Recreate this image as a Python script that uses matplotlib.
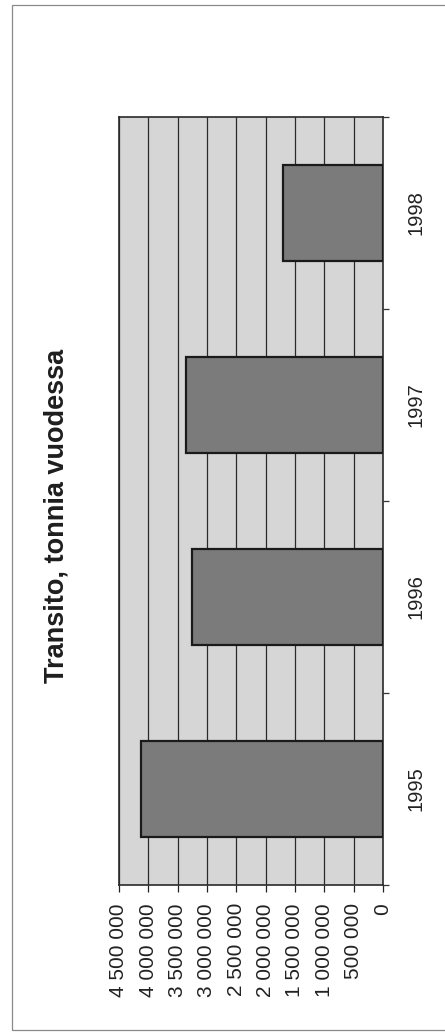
import matplotlib
matplotlib.use("Agg")
import matplotlib.pyplot as plt
from matplotlib.patches import Rectangle
from matplotlib.ticker import FuncFormatter, MultipleLocator

# ── Data ──────────────────────────────────────────────────────────────────────
years = ["1995", "1996", "1997", "1998"]
tonnes = [4125000, 3250000, 3360000, 1700000]
title = "Transito, tonnia vuodessa"

plt.rcParams["font.family"] = ["Liberation Sans", "DejaVu Sans"]

fig = plt.figure(figsize=(4.45, 10.34), dpi=100)
fig.patch.set_facecolor("white")

# page frame (right edge runs off the scan)
fig.patches.append(Rectangle((12 / 445, 4 / 1034), 1.0, 1025 / 1034,
                             transform=fig.transFigure, fill=False,
                             edgecolor="#8a8a8a", linewidth=0.9))

# chart is printed turned 90°: values run right-to-left, years bottom-to-top
ax = fig.add_axes([119 / 445, 149 / 1034, 264 / 445, 768 / 1034])
ax.set_facecolor("#d6d6d6")

pos = range(len(years))
ax.barh(pos, tonnes, height=0.5, color="#7b7b7b", edgecolor="#1a1a1a",
        linewidth=1.6, zorder=3)

ax.set_xlim(4500000, 0)
ax.set_ylim(-0.5, len(years) - 0.5)

ax.xaxis.set_major_locator(MultipleLocator(500000))
ax.xaxis.set_major_formatter(FuncFormatter(lambda v, p: f"{int(v):,}".replace(",", " ")))
ax.grid(axis="x", color="#2a2a2a", linewidth=0.9, zorder=1)
ax.set_axisbelow(True)
ax.tick_params(axis="x", direction="out", length=5, width=0.9, pad=8,
               labelsize=15, labelrotation=90, colors="#222222")

ax.yaxis.tick_right()
ax.set_yticks(list(pos))
ax.set_yticklabels(years, rotation=90, va="center", fontsize=14.5, color="#222222")
ax.set_yticks([p - 0.5 for p in range(len(years) + 1)], minor=True)
ax.tick_params(axis="y", which="major", length=0, pad=17)
ax.tick_params(axis="y", which="minor", direction="out", length=4, width=0.9,
               colors="#333333")

for spine in ax.spines.values():
    spine.set_edgecolor("#2a2a2a")
    spine.set_linewidth(1.2)

fig.text(57 / 445, 1 - 516 / 1034, title, rotation=90, ha="center", va="center",
         fontsize=19.5, fontweight="bold", color="#1e1e1e")

fig.savefig("out.png", dpi=100, facecolor=fig.get_facecolor())
